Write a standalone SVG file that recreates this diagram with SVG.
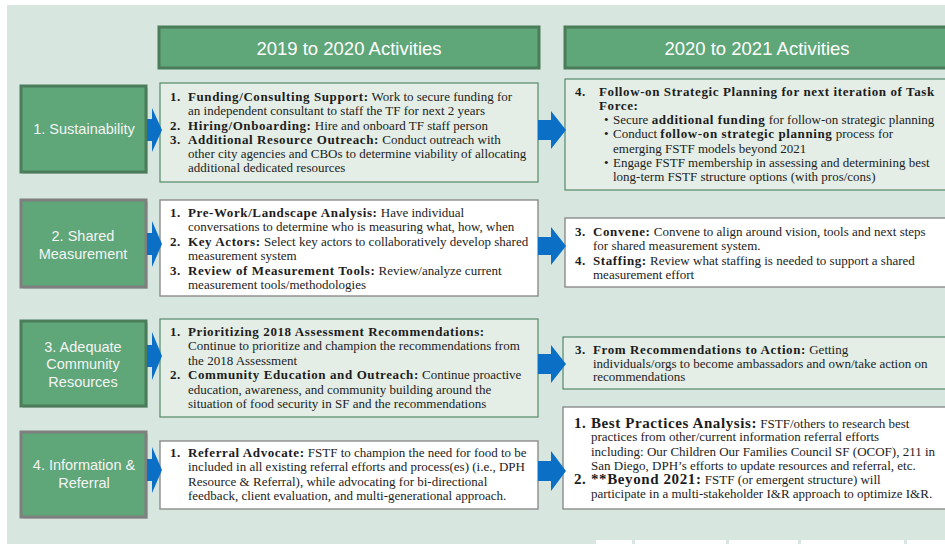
<svg xmlns="http://www.w3.org/2000/svg" width="945" height="544" viewBox="0 0 945 544">
<style>
.bg{fill:#d7e6df}
.hdr{fill:#5fa679;stroke:#4a7c59;stroke-width:3}
.hdrt{font-family:"Liberation Sans",Arial,sans-serif;font-size:18.5px;fill:#ffffff;text-anchor:middle}
.nodeg{fill:#5fa679;stroke:#4b7d5b;stroke-width:3}
.nodey{fill:#5fa679;stroke:#7f7f7f;stroke-width:3}
.shadow{fill:#b9c6c0}
.nt{font-family:"Liberation Sans",Arial,sans-serif;font-size:14.5px;fill:#f4f4f4;text-anchor:middle}
.lg{fill:#e4eee7;stroke:#55896a;stroke-width:1.2}
.wh{fill:#ffffff;stroke:#8c8c8c;stroke-width:1.4}
.t{font-family:"Liberation Serif","Times New Roman",serif;font-size:13px;fill:#1c1c1c}
.b{font-weight:bold;letter-spacing:0.6px}
.big{font-size:15px}
.arr{fill:#0b6fc6}
.strip{fill:#ffffff}
</style>
<rect x="0" y="0" width="945" height="544" fill="#ffffff"/>
<rect class="bg" x="7" y="5" width="938" height="539"/>
<g id="footer-strip">
<rect class="strip" x="596" y="540" width="36" height="4"/>
<rect class="strip" x="635" y="540" width="91" height="4"/>
<rect class="strip" x="729" y="540" width="69" height="4"/>
<rect class="strip" x="801" y="540" width="103" height="4"/>
<rect class="strip" x="907" y="540" width="38" height="4"/>
</g>

<g id="header-2019">
<rect class="hdr" x="159" y="27" width="380" height="41"/>
<text class="hdrt" x="349" y="55">2019 to 2020 Activities</text>
</g>
<g id="header-2020">
<rect class="hdr" x="565" y="27" width="384" height="41"/>
<text class="hdrt" x="757" y="55">2020 to 2021 Activities</text>
</g>

<g id="node-sustainability">
<rect class="shadow" x="23" y="88" width="125" height="86"/>
<rect class="nodeg" x="21" y="86" width="125" height="86"/>
<text class="nt" x="84" y="134">1. Sustainability</text>
</g>
<g id="node-shared-measurement">
<rect class="shadow" x="23" y="202" width="125" height="87"/>
<rect class="nodey" x="21" y="200" width="125" height="87"/>
<text class="nt" x="83" y="241">2. Shared</text>
<text class="nt" x="83" y="259">Measurement</text>
</g>
<g id="node-community-resources">
<rect class="shadow" x="23" y="323" width="125" height="85"/>
<rect class="nodeg" x="21" y="321" width="125" height="85"/>
<text class="nt" x="83" y="352">3. Adequate</text>
<text class="nt" x="83" y="369">Community</text>
<text class="nt" x="83" y="387">Resources</text>
</g>
<g id="node-information-referral">
<rect class="shadow" x="23" y="434" width="125" height="85"/>
<rect class="nodey" x="21" y="432" width="125" height="85"/>
<text class="nt" x="84" y="470">4. Information &amp;</text>
<text class="nt" x="84" y="488">Referral</text>
</g>

<g id="box-sustainability-2019">
<rect class="lg" x="160" y="83" width="378" height="99"/>
<text class="t" y="100.8"><tspan class="b" x="170">1.</tspan><tspan class="b" x="188">Funding/Consulting Support:</tspan><tspan> Work to secure funding for</tspan></text>
<text class="t" x="188" y="115.2">an independent consultant to staff the TF for next 2 years</text>
<text class="t" y="129.5"><tspan class="b" x="170">2.</tspan><tspan class="b" x="188">Hiring/Onboarding:</tspan><tspan> Hire and onboard TF staff person</tspan></text>
<text class="t" y="143.6"><tspan class="b" x="170">3.</tspan><tspan class="b" x="188">Additional Resource Outreach:</tspan><tspan> Conduct outreach with</tspan></text>
<text class="t" x="188" y="157.8">other city agencies and CBOs to determine viability of allocating</text>
<text class="t" x="188" y="171.9">additional dedicated resources</text>
</g>

<g id="box-sustainability-2020">
<rect class="lg" x="565" y="79" width="384" height="111"/>
<text class="t" y="95.5"><tspan class="b" x="575">4.</tspan><tspan class="b" x="599">Follow-on Strategic Planning for next iteration of Task</tspan></text>
<text class="t b" x="599" y="109.8">Force:</text>
<text class="t" y="124.1"><tspan x="604">•</tspan><tspan x="613">Secure </tspan><tspan class="b">additional funding</tspan><tspan> for follow-on strategic planning</tspan></text>
<text class="t" y="138.4"><tspan x="604">•</tspan><tspan x="613">Conduct </tspan><tspan class="b">follow-on strategic planning</tspan><tspan> process for</tspan></text>
<text class="t" x="613" y="152.7">emerging FSTF models beyond 2021</text>
<text class="t" y="167"><tspan x="604">•</tspan><tspan x="613">Engage FSTF membership in assessing and determining best</tspan></text>
<text class="t" x="613" y="181.2">long-term FSTF structure options (with pros/cons)</text>
</g>

<g id="box-measurement-2019">
<rect class="wh" x="160" y="200" width="378" height="96"/>
<text class="t" y="217"><tspan class="b" x="170">1.</tspan><tspan class="b" x="188">Pre-Work/Landscape Analysis:</tspan><tspan> Have individual</tspan></text>
<text class="t" x="188" y="231.4">conversations to determine who is measuring what, how, when</text>
<text class="t" y="245.8"><tspan class="b" x="170">2.</tspan><tspan class="b" x="188">Key Actors:</tspan><tspan> Select key actors to collaboratively develop shared</tspan></text>
<text class="t" x="188" y="260.2">measurement system</text>
<text class="t" y="274.6"><tspan class="b" x="170">3.</tspan><tspan class="b" x="188">Review of Measurement Tools:</tspan><tspan> Review/analyze current</tspan></text>
<text class="t" x="188" y="289">measurement tools/methodologies</text>
</g>

<g id="box-measurement-2020">
<rect class="wh" x="565" y="218" width="384" height="69"/>
<text class="t" y="236.2"><tspan class="b" x="575">3.</tspan><tspan class="b" x="593">Convene:</tspan><tspan> Convene to align around vision, tools and next steps</tspan></text>
<text class="t" x="593" y="250.2">for shared measurement system.</text>
<text class="t" y="264.6"><tspan class="b" x="575">4.</tspan><tspan class="b" x="593">Staffing:</tspan><tspan> Review what staffing is needed to support a shared</tspan></text>
<text class="t" x="593" y="278.8">measurement effort</text>
</g>

<g id="box-resources-2019">
<rect class="lg" x="160" y="319" width="378" height="98"/>
<text class="t" y="335.5"><tspan class="b" x="170">1.</tspan><tspan class="b" x="188">Prioritizing 2018 Assessment Recommendations:</tspan></text>
<text class="t" x="188" y="350">Continue to prioritize and champion the recommendations from</text>
<text class="t" x="188" y="364.5">the 2018 Assessment</text>
<text class="t" y="379"><tspan class="b" x="170">2.</tspan><tspan class="b" x="188">Community Education and Outreach:</tspan><tspan> Continue proactive</tspan></text>
<text class="t" x="188" y="393.5">education, awareness, and community building around the</text>
<text class="t" x="188" y="408">situation of food security in SF and the recommendations</text>
</g>

<g id="box-resources-2020">
<rect class="lg" x="563" y="337" width="386" height="52"/>
<text class="t" y="353.8"><tspan class="b" x="575">3.</tspan><tspan class="b" x="593">From Recommendations to Action:</tspan><tspan> Getting</tspan></text>
<text class="t" x="593" y="367.6">individuals/orgs to become ambassadors and own/take action on</text>
<text class="t" x="593" y="381.4">recommendations</text>
</g>

<g id="box-referral-2019">
<rect class="wh" x="160" y="441" width="378" height="68"/>
<text class="t" y="457"><tspan class="b" x="170">1.</tspan><tspan class="b" x="188">Referral Advocate:</tspan><tspan> FSTF to champion the need for food to be</tspan></text>
<text class="t" x="188" y="471.2">included in all existing referral efforts and process(es) (i.e., DPH</text>
<text class="t" x="188" y="485.6">Resource &amp; Referral), while advocating for bi-directional</text>
<text class="t" x="188" y="500">feedback, client evaluation, and multi-generational approach.</text>
</g>

<g id="box-referral-2020">
<rect class="wh" x="563" y="407" width="386" height="102"/>
<text class="t" y="427.6"><tspan class="b big" x="574">1.</tspan><tspan class="b big" x="591">Best Practices Analysis:</tspan><tspan> FSTF/others to research best</tspan></text>
<text class="t" x="591" y="441.2">practices from other/current information referral efforts</text>
<text class="t" x="591" y="455.8">including: Our Children Our Families Council SF (OCOF), 211 in</text>
<text class="t" x="591" y="470">San Diego, DPH’s efforts to update resources and referral, etc.</text>
<text class="t" y="484.4"><tspan class="b big" x="574">2.</tspan><tspan class="b big" x="591">**Beyond 2021:</tspan><tspan> FSTF (or emergent structure) will</tspan></text>
<text class="t" x="591" y="498.4">participate in a multi-stakeholder I&amp;R approach to optimize I&amp;R.</text>
</g>

<g id="connectors">
<path class="arr" d="M147,119 L152,119 L152,108 L162,130 L152,152 L152,141 L147,141 Z"/>
<path class="arr" d="M147,233 L152,233 L152,221 L162,244 L152,267 L152,255 L147,255 Z"/>
<path class="arr" d="M147,345 L152,345 L152,332 L162,356 L152,380 L152,367 L147,367 Z"/>
<path class="arr" d="M147,459 L152,459 L152,447 L162,470 L152,493 L152,481 L147,481 Z"/>
<path class="arr" d="M538,120 L551,120 L551,111 L566,130 L551,149 L551,140 L538,140 Z"/>
<path class="arr" d="M538,237 L551,237 L551,227 L566,246 L551,265 L551,255 L538,255 Z"/>
<path class="arr" d="M538,354 L551,354 L551,345 L566,364 L551,383 L551,374 L538,374 Z"/>
<path class="arr" d="M538,461 L551,461 L551,451 L566,471 L551,491 L551,481 L538,481 Z"/>
</g>
</svg>
